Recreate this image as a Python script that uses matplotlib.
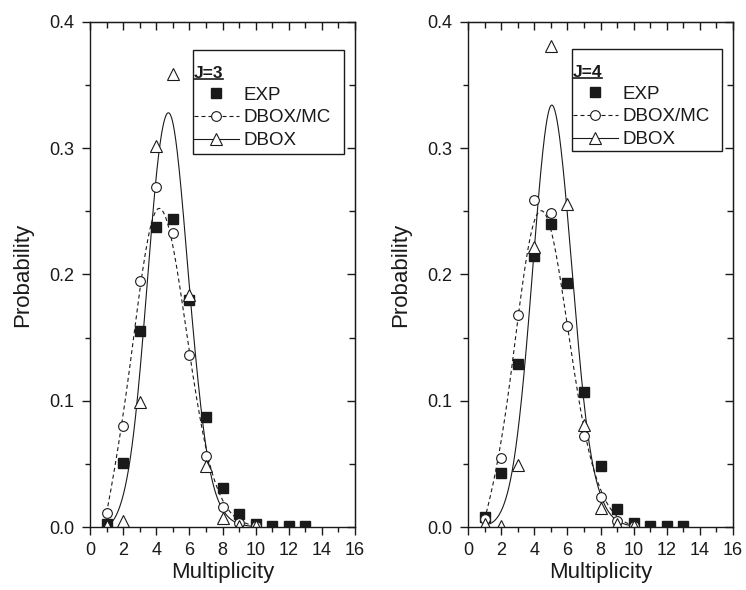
import numpy as np
import matplotlib
matplotlib.use("Agg")
import matplotlib.pyplot as plt
from matplotlib.lines import Line2D
from matplotlib.patches import Rectangle
from matplotlib.ticker import MultipleLocator, FormatStrFormatter

plt.rcParams['font.family'] = ['Liberation Sans', 'DejaVu Sans']

# ---------------------------------------------------------
# Data
# ---------------------------------------------------------
mult_exp = np.arange(1, 14)   # experimental multiplicities
mult_sim = np.arange(1, 11)   # simulated multiplicities

j3_exp = [0.002, 0.051, 0.155, 0.238, 0.244, 0.180, 0.087, 0.031, 0.010,
          0.002, 0.0005, 0.0005, 0.0005]
j3_mc = [0.011, 0.080, 0.195, 0.269, 0.233, 0.136, 0.056, 0.016, 0.003, 0.001]
j3_dbox = [0.001, 0.005, 0.099, 0.302, 0.359, 0.184, 0.048, 0.007, 0.001, 0.0005]

j4_exp = [0.008, 0.043, 0.129, 0.215, 0.240, 0.193, 0.107, 0.048, 0.014,
          0.003, 0.001, 0.0005, 0.0005]
j4_mc = [0.006, 0.055, 0.168, 0.259, 0.249, 0.159, 0.072, 0.024, 0.005, 0.001]
j4_dbox = [0.002, 0.001, 0.049, 0.222, 0.381, 0.256, 0.081, 0.015, 0.002, 0.001]

panels = [("J=3", j3_exp, j3_mc, j3_dbox),
          ("J=4", j4_exp, j4_mc, j4_dbox)]

ink = '#1a1a1a'
dash = (0, (3.6, 2.7))


def bspline(xs, ys, npts=400, k=3):
    """Clamped uniform B-spline using the data points as control points."""
    xs = np.asarray(xs, float)
    ys = np.asarray(ys, float)
    m = len(xs)
    knots = np.r_[np.zeros(k), np.arange(m - k + 1), np.full(k, m - k)].astype(float)
    t = np.linspace(0, m - k, npts)
    N = np.zeros((npts, len(knots) - 1))
    for i in range(len(knots) - 1):
        N[:, i] = (knots[i] <= t) & (t < knots[i + 1])
    N[-1, m - 1] = 1.0
    for p in range(1, k + 1):
        Nn = np.zeros((npts, len(knots) - 1 - p))
        for i in range(len(knots) - 1 - p):
            d1 = knots[i + p] - knots[i]
            d2 = knots[i + p + 1] - knots[i + 1]
            a = (t - knots[i]) / d1 * N[:, i] if d1 > 0 else 0.0
            b = (knots[i + p + 1] - t) / d2 * N[:, i + 1] if d2 > 0 else 0.0
            Nn[:, i] = a + b
        N = Nn
    return N @ xs, N @ ys


fig = plt.figure(figsize=(7.46, 5.9), dpi=100)
W, H = 746, 590

# axes placement in pixels: left, width ; bottom/top shared
ax_lefts = [90, 468]
ax_w, ax_bottom, ax_top = 265, 527, 22
# legend boxes in pixels (left, right, top, bottom)
boxes = [(193, 344, 50, 154), (572, 722, 49, 151)]

legends = []
for left, box, (title, exp, mc, dbox) in zip(ax_lefts, boxes, panels):
    ax = fig.add_axes([left / W, (H - ax_bottom) / H, ax_w / W, (ax_bottom - ax_top) / H])

    # smooth curves
    cx, cy = bspline(mult_sim, mc)
    ax.plot(cx, cy, ls=dash, lw=0.8, color=ink)
    cx, cy = bspline(mult_sim, dbox)
    ax.plot(cx, cy, ls='-', lw=0.8, color=ink)

    # points
    ax.plot(mult_exp, exp, ls='none', marker='s', ms=7, mfc=ink, mec=ink)
    ax.plot(mult_sim, mc, ls='none', marker='o', ms=7, mfc='white', mec=ink, mew=0.8)
    ax.plot(mult_sim, dbox, ls='none', marker='^', ms=8, mfc='white', mec=ink, mew=0.8)

    ax.set_xlim(0, 16)
    ax.set_ylim(0, 0.4)
    ax.xaxis.set_major_locator(MultipleLocator(2))
    ax.xaxis.set_minor_locator(MultipleLocator(1))
    ax.yaxis.set_major_locator(MultipleLocator(0.1))
    ax.yaxis.set_minor_locator(MultipleLocator(0.05))
    ax.yaxis.set_major_formatter(FormatStrFormatter('%.1f'))
    ax.tick_params(which='both', direction='out', width=1, colors=ink,
                   labelsize=13, top=False, right=False)
    ax.tick_params(which='major', length=5.5, pad=5.5)
    ax.tick_params(which='minor', length=3.5)
    for s in ax.spines.values():
        s.set_linewidth(1.0)
        s.set_color(ink)

    # inward ticks on top and right
    sx = ax.secondary_xaxis('top')
    sx.xaxis.set_major_locator(MultipleLocator(2))
    sx.xaxis.set_minor_locator(MultipleLocator(1))
    sx.tick_params(which='both', direction='in', width=1, colors=ink, labeltop=False)
    sx.tick_params(which='major', length=6)
    sx.tick_params(which='minor', length=4)
    sy = ax.secondary_yaxis('right')
    sy.yaxis.set_major_locator(MultipleLocator(0.1))
    sy.yaxis.set_minor_locator(MultipleLocator(0.05))
    sy.tick_params(which='both', direction='in', width=1, colors=ink, labelright=False)
    sy.tick_params(which='major', length=6)
    sy.tick_params(which='minor', length=4)

    ax.set_xlabel('Multiplicity', fontsize=16, color=ink, labelpad=2)
    ax.set_ylabel('Probability', fontsize=16, color=ink, labelpad=12)

    # legend box
    bl, br, bt, bb = box
    x0 = (bl - left) / ax_w
    x1 = (br - left) / ax_w
    y0 = (ax_bottom - bb) / (ax_bottom - ax_top)
    y1 = (ax_bottom - bt) / (ax_bottom - ax_top)
    ax.add_patch(Rectangle((x0, y0), x1 - x0, y1 - y0, transform=ax.transAxes,
                           fill=False, ec=ink, lw=1.0, zorder=5))

    handles = [
        Line2D([], [], ls='none', marker='s', ms=7, mfc=ink, mec=ink),
        Line2D([], [], ls=dash, lw=0.8, color=ink, marker='o', ms=7,
               mfc='white', mec=ink, mew=0.8),
        Line2D([], [], ls='-', lw=0.8, color=ink, marker='^', ms=8,
               mfc='white', mec=ink, mew=0.8),
    ]
    leg = ax.legend(handles, ['EXP', 'DBOX/MC', 'DBOX'], title=title,
                    title_fontproperties={'weight': 'bold', 'size': 12.5},
                    alignment='left', loc='upper left',
                    bbox_to_anchor=(x0, (ax_bottom - (bt + 15)) / (ax_bottom - ax_top)),
                    frameon=False, fontsize=13.5, handlelength=2.4,
                    handletextpad=0.25, labelspacing=0.3, borderpad=0.05,
                    borderaxespad=0)
    for txt in leg.get_texts():
        txt.set_color(ink)
    leg.get_title().set_color(ink)
    legends.append(leg)

# underline the legend titles
fig.canvas.draw()
renderer = fig.canvas.get_renderer()
inv = fig.transFigure.inverted()
for leg in legends:
    bb = leg.get_title().get_window_extent(renderer)
    (fx0, fy), (fx1, _) = inv.transform([(bb.x0, bb.y0 + 1.5), (bb.x1, bb.y0 + 1.5)])
    fig.add_artist(Line2D([fx0, fx1], [fy, fy], color=ink, lw=1.2))

fig.savefig('out.png', dpi=100)
